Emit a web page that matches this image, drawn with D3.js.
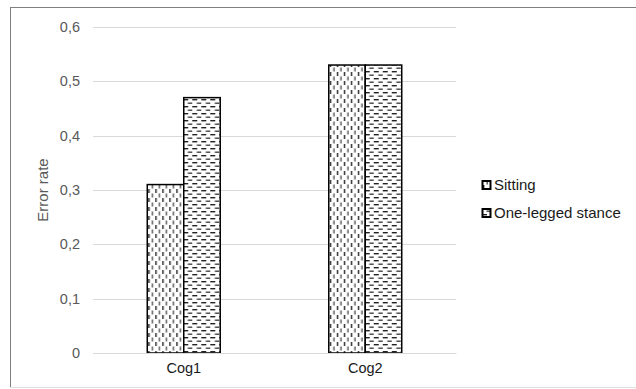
<!DOCTYPE html>
<html>
<head>
<meta charset="utf-8">
<script src="https://cdn.jsdelivr.net/npm/d3@7"></script>
<style>
  html, body { margin: 0; padding: 0; background: #fff; }
  svg { display: block; font-family: "Liberation Sans", Arial, sans-serif; }
</style>
</head>
<body>
<svg id="chart" width="636" height="389"></svg>
<script>
// Error rate by cognitive task and posture
const categories = ["Cog1", "Cog2"];
const seriesNames = ["Sitting", "One-legged stance"];
const sitting = [0.31, 0.53];
const oneLegged = [0.47, 0.53];
const yTicks = [0, 0.1, 0.2, 0.3, 0.4, 0.5, 0.6];

const svg = d3.select("#chart");
const plot = { left: 93, right: 456, top: 27, bottom: 353 };

// Fill patterns: dashed vertical and dashed horizontal
const defs = svg.append("defs");
const pv = defs.append("pattern").attr("id", "dashVert")
  .attr("patternUnits", "userSpaceOnUse").attr("width", 7).attr("height", 9);
pv.append("rect").attr("width", 7).attr("height", 9).attr("fill", "#fff");
pv.append("rect").attr("x", 1).attr("y", 0).attr("width", 1.4).attr("height", 4).attr("fill", "#222");
pv.append("rect").attr("x", 4.5).attr("y", 4.5).attr("width", 1.4).attr("height", 4).attr("fill", "#555");

const ph = defs.append("pattern").attr("id", "dashHorz")
  .attr("patternUnits", "userSpaceOnUse").attr("width", 9).attr("height", 7);
ph.append("rect").attr("width", 9).attr("height", 7).attr("fill", "#fff");
ph.append("rect").attr("x", 0).attr("y", 1).attr("width", 5).attr("height", 1.4).attr("fill", "#222");
ph.append("rect").attr("x", 4.5).attr("y", 4.5).attr("width", 5).attr("height", 1.4).attr("fill", "#444");

const fills = ["url(#dashVert)", "url(#dashHorz)"];

// Chart frame
svg.append("line").attr("x1", 10.5).attr("x2", 10.5).attr("y1", 7).attr("y2", 388)
  .attr("stroke", "#7f7f7f");
svg.append("line").attr("x1", 10).attr("x2", 636).attr("y1", 7.5).attr("y2", 7.5)
  .attr("stroke", "#7f7f7f");
svg.append("line").attr("x1", 10).attr("x2", 636).attr("y1", 387.5).attr("y2", 387.5)
  .attr("stroke", "#e0e0e0");

// Scales
const x0 = d3.scaleBand().domain(categories).range([plot.left, plot.right])
  .paddingInner(0.598).paddingOuter(0.299);
const x1 = d3.scaleBand().domain(seriesNames).range([0, x0.bandwidth()]);
const y = d3.scaleLinear().domain([0, 0.6]).range([plot.bottom, plot.top]);
const fmt = v => d3.format(".1f")(v).replace(".", ",").replace(/^0,0$/, "0");

// Gridlines
svg.append("g").selectAll("line").data(yTicks).join("line")
  .attr("x1", plot.left).attr("x2", plot.right)
  .attr("y1", d => Math.round(y(d)) + 0.5).attr("y2", d => Math.round(y(d)) + 0.5)
  .attr("stroke", "#d9d9d9").attr("stroke-width", 1);

// Y axis
const yAxis = svg.append("g").attr("transform", `translate(${plot.left},0)`)
  .call(d3.axisLeft(y).tickValues(yTicks).tickSize(0).tickPadding(13)
    .tickFormat(d => d === 0 ? "0" : fmt(d)));
yAxis.select(".domain").remove();
yAxis.selectAll("text").attr("fill", "#595959").style("font-size", "14.5px")
  .style("font-family", "'Liberation Sans', Arial, sans-serif");

// Bars
const rows = categories.map((c, i) => ({ cat: c, vals: [sitting[i], oneLegged[i]] }));
const groups = svg.append("g").selectAll("g").data(rows).join("g")
  .attr("transform", d => `translate(${x0(d.cat)},0)`);
groups.selectAll("rect").data(d => d.vals.map((v, j) => ({ v, s: seriesNames[j], j })))
  .join("rect")
  .attr("x", d => x1(d.s))
  .attr("y", d => y(d.v))
  .attr("width", x1.bandwidth())
  .attr("height", d => y(0) - y(d.v))
  .attr("fill", d => fills[d.j])
  .attr("stroke", "#000").attr("stroke-width", 1.5);

// X axis
const xAxis = svg.append("g").attr("transform", `translate(0,${plot.bottom})`)
  .call(d3.axisBottom(x0).tickSize(0).tickPadding(10));
xAxis.select(".domain").attr("stroke", "#d9d9d9");
xAxis.selectAll("text").attr("fill", "#1a1a1a").style("font-size", "14.5px")
  .style("font-family", "'Liberation Sans', Arial, sans-serif");

// Axis title
svg.append("text")
  .attr("transform", `translate(48,${(plot.top + plot.bottom) / 2}) rotate(-90)`)
  .attr("text-anchor", "middle")
  .attr("fill", "#595959").style("font-size", "15px")
  .text("Error rate");

// Legend
const legend = svg.append("g").attr("transform", "translate(482,185)");
const items = legend.selectAll("g").data(seriesNames).join("g")
  .attr("transform", (d, i) => `translate(0,${i * 28})`);
items.append("rect").attr("x", 0.5).attr("y", -4).attr("width", 8).attr("height", 8)
  .attr("fill", (d, i) => fills[i]).attr("stroke", "#000").attr("stroke-width", 2);
items.append("text").attr("x", 12).attr("y", 0).attr("dy", "0.35em")
  .attr("fill", "#1a1a1a").style("font-size", "15px")
  .text(d => d);
</script>
</body>
</html>
